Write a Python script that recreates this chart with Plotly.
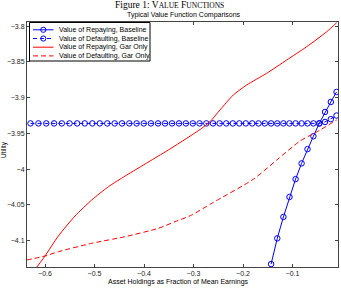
import plotly.graph_objects as go

# ---------------- data ----------------
grid_x = [-0.6293, -0.6133, -0.5975, -0.5817, -0.5661, -0.5505, -0.5351, -0.5197,
          -0.5044, -0.4893, -0.4742, -0.4593, -0.4444, -0.4297, -0.4150, -0.4005,
          -0.3861, -0.3717, -0.3575, -0.3434, -0.3293, -0.3154, -0.3015, -0.2878,
          -0.2741, -0.2606, -0.2472, -0.2338, -0.2206, -0.2075, -0.1944, -0.1815,
          -0.1687, -0.1560, -0.1433, -0.1308, -0.1184, -0.1061, -0.0938, -0.0817,
          -0.0697, -0.0578, -0.0460, -0.0343, -0.0226, -0.0111]

default_base_y = [-3.936] * 43 + [-3.934, -3.930, -3.925]

repay_base_x = grid_x[34:]
repay_base_y = [-4.133, -4.097, -4.067, -4.039, -4.014, -3.992, -3.972, -3.954,
                -3.936, -3.920, -3.906, -3.892]

repay_gar_x = [-0.6293, -0.6168, -0.600, -0.5731, -0.5394, -0.5057, -0.4721, -0.4384,
               -0.4046, -0.3711, -0.3509, -0.3137, -0.2834, -0.2667, -0.2465, -0.2196,
               -0.1925, -0.1521, -0.1117, -0.0713, -0.0309, -0.0107]
repay_gar_y = [-4.150, -4.1375, -4.1217, -4.0937, -4.0657, -4.0433, -4.0247, -4.0098,
               -3.9957, -3.9817, -3.9733, -3.9569, -3.9429, -3.9336, -3.9172, -3.8962,
               -3.8822, -3.8658, -3.8472, -3.8286, -3.8076, -3.7950]

default_gar_x = [-0.637, -0.600, -0.5731, -0.5057, -0.4384, -0.3711, -0.3374, -0.3036,
                 -0.2632, -0.1792, -0.1319, -0.0848, -0.0511, -0.0107]
default_gar_y = [-4.1273, -4.1217, -4.1157, -4.1039, -4.0947, -4.0829, -4.0737, -4.0643,
                 -4.0479, -4.0143, -3.9873, -3.9606, -3.9480, -3.9312]

x_ticks = [-0.6, -0.5, -0.4, -0.3, -0.2, -0.1]
x_tick_text = ["\u22120.6", "\u22120.5", "\u22120.4", "\u22120.3", "\u22120.2", "\u22120.1"]
y_ticks = [-3.8, -3.85, -3.9, -3.95, -4.0, -4.05, -4.1]
y_tick_text = ["\u22123.8", "\u22123.85", "\u22123.9", "\u22123.95", "\u22124", "\u22124.05", "\u22124.1"]

legend_labels = ["Value of Repaying, Baseline", "Value of Defaulting, Baseline",
                 "Value of Repaying, Gar Only", "Value of Defaulting, Gar Only"]

BLUE = "#0000ff"
RED = "#ff0000"
SANS = "Liberation Sans, Arial, sans-serif"

W, H = 341, 289
ML, MR, MT, MB = 27, 3, 22, 22
PW, PH = W - ML - MR, H - MT - MB


def px(xp):
    return (xp - ML) / PW


def py(yp):
    return (H - MB - yp) / PH


fig = go.Figure()
fig.add_trace(go.Scatter(x=repay_base_x, y=repay_base_y, mode="lines+markers",
                         line=dict(color=BLUE, width=1),
                         marker=dict(symbol="circle-open", size=5.5, color=BLUE,
                                     line=dict(width=1, color=BLUE)),
                         name=legend_labels[0], showlegend=False))
fig.add_trace(go.Scatter(x=grid_x, y=default_base_y, mode="lines+markers",
                         line=dict(color=BLUE, width=1, dash="4px,3px"),
                         marker=dict(symbol="circle-open", size=5.5, color=BLUE,
                                     line=dict(width=1, color=BLUE)),
                         name=legend_labels[1], showlegend=False))
fig.add_trace(go.Scatter(x=repay_gar_x, y=repay_gar_y, mode="lines",
                         line=dict(color=RED, width=1, shape="spline", smoothing=0.6),
                         name=legend_labels[2], showlegend=False))
fig.add_trace(go.Scatter(x=default_gar_x, y=default_gar_y, mode="lines",
                         line=dict(color=RED, width=1, dash="5px,3px", shape="spline", smoothing=0.6),
                         name=legend_labels[3], showlegend=False))

# ---------------- manual legend ----------------
shapes = []
annotations = []
shapes.append(dict(type="rect", xref="paper", yref="paper",
                   x0=px(29.5), x1=px(150), y0=py(22.5), y1=py(61),
                   line=dict(color="#000000", width=1), fillcolor="white", layer="above"))
rows = [29.8, 38.5, 47.2, 55.9]
styles = [(BLUE, "solid", True), (BLUE, "4px,3px", True), (RED, "solid", False), (RED, "5px,3px", False)]
for ry, (col, dsh, mk), lab in zip(rows, styles, legend_labels):
    shapes.append(dict(type="line", xref="paper", yref="paper",
                       x0=px(33), x1=px(53.5), y0=py(ry), y1=py(ry),
                       line=dict(color=col, width=1, dash=dsh), layer="above"))
    if mk:
        r = 2.6
        shapes.append(dict(type="circle", xref="paper", yref="paper",
                           x0=px(43.3 - r), x1=px(43.3 + r), y0=py(ry + r), y1=py(ry - r),
                           line=dict(color=col, width=1), layer="above"))
    annotations.append(dict(text=lab, xref="paper", yref="paper", x=px(56.5), y=py(ry),
                            xanchor="left", yanchor="middle", showarrow=False,
                            font=dict(family=SANS, size=7, color="#000000")))

# ---------------- titles ----------------
annotations.append(dict(
    text="Figure 1: V<span style='font-size:7.5px'>ALUE</span> F<span style='font-size:7.5px'>UNCTIONS</span>",
    xref="paper", yref="paper", x=px(169), y=py(4.5), xanchor="center", yanchor="middle",
    showarrow=False, font=dict(family="Liberation Serif, Times New Roman, serif", size=9.5, color="#000000")))
annotations.append(dict(text="Typical Value Function Comparisons", xref="paper", yref="paper",
                        x=px(184), y=py(14.5), xanchor="center", yanchor="middle", showarrow=False,
                        font=dict(family=SANS, size=7, color="#000000")))
annotations.append(dict(text="Asset Holdings as Fraction of Mean Earnings", xref="paper", yref="paper",
                        x=px(178), y=py(282), xanchor="center", yanchor="middle", showarrow=False,
                        font=dict(family=SANS, size=7, color="#000000")))
annotations.append(dict(text="Utility", xref="paper", yref="paper", textangle=-90,
                        x=px(4), y=py(150), xanchor="center", yanchor="middle", showarrow=False,
                        font=dict(family=SANS, size=6.5, color="#000000")))

axis_common = dict(showgrid=False, zeroline=False, showline=True, linecolor="#444444", linewidth=1,
                   mirror="ticks", ticks="inside", ticklen=3, tickwidth=1, tickcolor="#444444",
                   tickfont=dict(family=SANS, size=7, color="#222222"))

fig.update_layout(
    width=W, height=H, margin=dict(l=ML, r=MR, t=MT, b=MB, pad=0),
    paper_bgcolor="white", plot_bgcolor="white",
    xaxis=dict(range=[-0.6364, -0.0081], tickvals=x_ticks, ticktext=x_tick_text, **axis_common),
    yaxis=dict(range=[-4.1371, -3.794], tickvals=y_ticks, ticktext=y_tick_text, **axis_common),
    shapes=shapes, annotations=annotations, showlegend=False,
)

fig.write_html("out.html")
